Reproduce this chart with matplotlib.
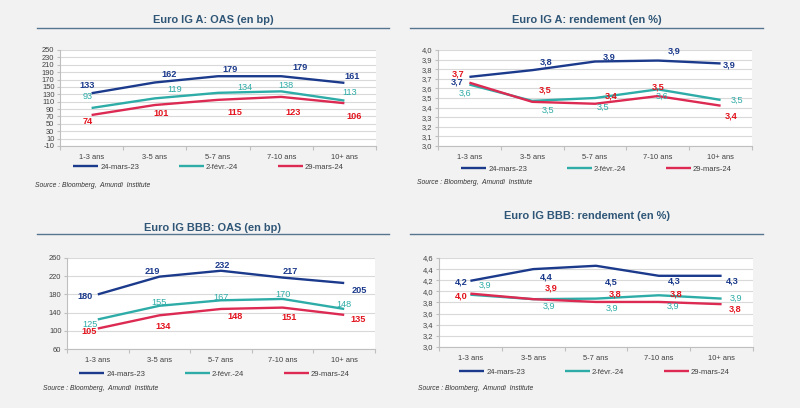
import matplotlib
matplotlib.use("Agg")
import numpy as np
import matplotlib.pyplot as plt
from matplotlib.lines import Line2D
from matplotlib.ticker import FuncFormatter, FixedLocator

plt.rcParams["font.family"] = ["Liberation Sans", "DejaVu Sans"]

W, H = 800, 408

categories = ["1-3 ans", "3-5 ans", "5-7 ans", "7-10 ans", "10+ ans"]
series_names = ["24-mars-23", "2-févr.-24", "29-mars-24"]

# Euro IG A : OAS (bp)
a_oas_mar23 = [133, 162, 179, 179, 161]
a_oas_feb24 = [93, 119, 134, 138, 113]
a_oas_mar24 = [74, 101, 115, 123, 106]

# Euro IG A : rendement (%)
a_yld_mar23 = [3.72, 3.79, 3.88, 3.89, 3.86]
a_yld_feb24 = [3.64, 3.47, 3.50, 3.59, 3.48]
a_yld_mar24 = [3.66, 3.46, 3.44, 3.52, 3.42]

# Euro IG BBB : OAS (bp)
bbb_oas_mar23 = [180, 219, 232, 217, 205]
bbb_oas_feb24 = [125, 155, 167, 170, 148]
bbb_oas_mar24 = [105, 134, 148, 151, 135]

# Euro IG BBB : rendement (%)
bbb_yld_mar23 = [4.19, 4.40, 4.46, 4.28, 4.28]
bbb_yld_feb24 = [3.94, 3.86, 3.87, 3.93, 3.87]
bbb_yld_mar24 = [3.96, 3.86, 3.81, 3.81, 3.77]

NAVY = "#1b3a8c"
TEAL = "#2eaca7"
RED_LINE = "#dc2a52"
RED_TXT = "#e3141e"
TITLE_C = "#2f5677"
TICK_C = "#404040"

line_colors = [NAVY, TEAL, RED_LINE]
label_colors = [NAVY, TEAL, RED_TXT]
label_weights = ["bold", "normal", "bold"]


def fmt_fr(v, decimals):
    return f"{v:.{decimals}f}".replace(".", ",")


fig = plt.figure(figsize=(W / 100, H / 100), dpi=100)
fig.patch.set_facecolor("#f2f2f2")


def px_ax(x0, y0, x1, y1):
    return fig.add_axes([x0 / W, 1 - y1 / H, (x1 - x0) / W, (y1 - y0) / H])


def panel(box, title, title_y, rule_x, rule_y, data, ylim, ystep, decimals,
          offsets, legend_xy, source_xy):
    ax = px_ax(*box)
    ax.set_facecolor("white")
    x = range(len(categories))
    for i, vals in enumerate(data):
        ax.plot(x, vals, color=line_colors[i], lw=1.7, solid_capstyle="butt",
                label=series_names[i], zorder=3)
        for j, v in enumerate(vals):
            dx, dy = offsets[i][j]
            ax.annotate(fmt_fr(v, decimals), (j, v), xytext=(dx, -dy),
                        textcoords="offset pixels", ha="center", va="center",
                        fontsize=6.6, color=label_colors[i],
                        fontweight=label_weights[i], zorder=4)
    ax.set_xlim(-0.5, len(categories) - 0.5)
    ax.set_ylim(*ylim)
    yt = np.arange(ylim[0], ylim[1] + ystep / 2, ystep)
    ax.yaxis.set_major_locator(FixedLocator(yt))
    ax.yaxis.set_major_formatter(FuncFormatter(
        lambda v, p: fmt_fr(v, 1 if decimals else 0)))
    ax.set_xticks(list(x))
    ax.set_xticklabels(categories)
    ax.xaxis.set_minor_locator(FixedLocator([k - 0.5 for k in range(len(categories) + 1)]))
    ax.tick_params(axis="x", which="major", length=0, pad=6, labelsize=5.4,
                   labelcolor=TICK_C)
    ax.tick_params(axis="x", which="minor", length=3, color="#bfbfbf", width=0.8)
    ax.tick_params(axis="y", length=2.5, color="#bfbfbf", width=0.8, pad=1.5,
                   labelsize=5.4, labelcolor=TICK_C)
    ax.grid(axis="y", color="#d9d9d9", lw=0.8)
    ax.set_axisbelow(True)
    for s in ["top", "right"]:
        ax.spines[s].set_visible(False)
    for s in ["left", "bottom"]:
        ax.spines[s].set_color("#bfbfbf")
        ax.spines[s].set_linewidth(0.8)

    cx = (rule_x[0] + rule_x[1]) / 2
    fig.text(cx / W, 1 - title_y / H, title, ha="center", va="center",
             fontsize=7.9, fontweight="bold", color=TITLE_C)
    fig.add_artist(Line2D([rule_x[0] / W, rule_x[1] / W],
                          [1 - rule_y / H, 1 - rule_y / H],
                          color="#56758f", lw=1.0))

    ax.legend(loc="center left", bbox_to_anchor=(legend_xy[0] / W, 1 - legend_xy[1] / H),
              bbox_transform=fig.transFigure, ncol=3, frameon=False,
              fontsize=5.5, handlelength=3.3, handletextpad=0.25,
              columnspacing=5.2, borderpad=0, borderaxespad=0,
              labelcolor=TICK_C)
    fig.text(source_xy[0] / W, 1 - source_xy[1] / H,
             "Source : Bloomberg,  Amundi  Institute", ha="left", va="center",
             fontsize=4.9, style="italic", color="#333333")
    return ax


panel((60, 50, 376, 146), "Euro IG A: OAS (en bp)", 20, (37, 389), 27.5,
      [a_oas_mar23, a_oas_feb24, a_oas_mar24], (-10, 250), 20, 0,
      [[(-4, -8), (14, -7.5), (12, -7), (19, -9), (8, -6)],
       [(-4, -11), (20, -9), (27, -5), (5, -6), (5, -8)],
       [(-4, 7), (6, 8), (17, 13), (12, 16), (10, 13)]],
      (73, 167), (35, 186))

panel((438, 50, 752, 146), "Euro IG A: rendement (en %)", 20, (410, 763), 27.5,
      [a_yld_mar23, a_yld_feb24, a_yld_mar24], (3.0, 4.0), 0.1, 1,
      [[(-12, 5.5), (14, -8.5), (14, -5), (16, -9.6), (9, 1.6)],
       [(-4, 9), (16, 9), (8, 9), (4, 7), (16, 0)],
       [(-11, -8.5), (13, -12), (16, -8), (0, -9), (11, 10)]],
      (461, 169), (417, 183))

panel((67, 258, 375, 349), "Euro IG BBB: OAS (en bp)", 228, (37, 389), 234.3,
      [bbb_oas_mar23, bbb_oas_feb24, bbb_oas_mar24], (60, 260), 40, 0,
      [[(-13, 2), (-7, -5.6), (1, -5.7), (8, -6), (15, 7)],
       [(-8, 4.6), (0, -3), (0, -3), (0, -4), (0, -4)],
       [(-9, 3), (4, 11), (14, 8), (7, 10), (14, 5)]],
      (79, 374), (43, 389))

panel((439, 258, 753, 347), "Euro IG BBB: rendement (en %)", 216, (410, 763), 234.3,
      [bbb_yld_mar23, bbb_yld_feb24, bbb_yld_mar24], (3.0, 4.6), 0.2, 1,
      [[(-9, 1.5), (13, 7.6), (15, 16.5), (15, 5), (11, 5)],
       [(15, -9), (16, 7.6), (16, 10), (14.5, 10.7), (14, 0)],
       [(-9, 2.4), (17.5, -11.4), (19, -7.6), (17, -7.6), (13.4, 5.2)]],
      (459, 372), (418, 389))

fig.savefig("out.png", dpi=100, facecolor=fig.get_facecolor())
